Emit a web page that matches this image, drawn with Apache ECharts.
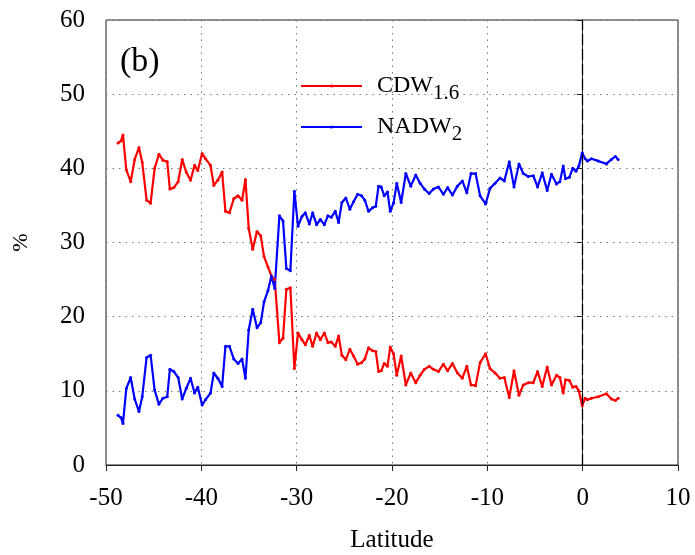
<!DOCTYPE html>
<html><head><meta charset="utf-8">
<script src="https://cdn.jsdelivr.net/npm/echarts@6/dist/echarts.min.js"></script>
<style>html,body{margin:0;padding:0;background:#fff}#c{width:695px;height:555px}</style>
</head><body><div id="c"></div>
<script>
const lat = [-48.74,-48.43,-48.22,-47.87,-47.41,-46.99,-46.54,-46.20,-45.74,-45.32,
-44.90,-44.45,-44.03,-43.58,-43.30,-42.88,-42.43,-42.01,-41.59,-41.13,
-40.71,-40.37,-39.92,-39.56,-39.04,-38.69,-38.27,-37.82,-37.47,-37.05,
-36.60,-36.15,-35.73,-35.37,-35.03,-34.61,-34.16,-33.77,-33.42,-33.01,
-32.65,-32.30,-31.81,-31.43,-31.08,-30.66,-30.24,-29.86,-29.45,-29.09,
-28.67,-28.32,-27.91,-27.52,-27.10,-26.72,-26.37,-25.95,-25.60,-25.26,
-24.84,-24.42,-24.03,-23.61,-23.19,-22.85,-22.46,-22.04,-21.70,-21.41,
-21.13,-20.82,-20.47,-20.19,-19.84,-19.50,-19.04,-18.55,-18.03,-17.51,
-17.05,-16.60,-16.10,-15.65,-15.13,-14.61,-14.16,-13.66,-13.14,-12.62,
-12.15,-11.71,-11.23,-10.76,-10.18,-9.72,-9.19,-8.67,-8.22,-7.70,
-7.20,-6.68,-6.23,-5.71,-5.18,-4.73,-4.24,-3.72,-3.27,-2.74,
-2.39,-2.04,-1.80,-1.39,-1.05,-0.70,-0.40,-0.05,0.26,0.50,
0.92,1.62,2.49,3.02,3.44,3.72];
const cdw = [43.4,43.7,44.5,39.8,38.2,41.2,42.8,40.8,35.7,35.3,
40.0,41.9,41.1,40.9,37.2,37.4,38.2,41.2,39.5,38.4,
40.4,39.7,42.0,41.3,40.4,37.7,38.4,39.5,34.2,34.0,
35.9,36.3,35.7,38.5,31.9,29.1,31.5,30.9,28.1,26.7,
25.5,25.0,16.5,17.1,23.7,23.9,13.0,17.8,16.9,16.2,
17.5,16.0,17.8,16.9,17.8,16.5,16.6,16.0,17.4,14.8,
14.2,15.6,14.7,13.6,13.8,14.3,15.8,15.4,15.3,12.6,
12.7,13.7,13.3,15.9,15.0,12.1,14.7,10.8,12.4,11.1,
12.1,12.9,13.3,12.9,12.6,13.6,12.7,13.7,12.4,11.7,
13.3,10.8,10.7,13.8,15.0,13.0,12.4,11.7,11.8,9.1,
12.7,9.4,10.8,11.1,11.1,12.6,10.6,13.2,10.8,12.1,
11.8,9.7,11.5,11.4,10.5,10.6,10.0,8.0,9.0,8.8,
9.0,9.2,9.6,8.9,8.7,9.0];
const nadw = [6.7,6.4,5.6,10.3,11.8,8.9,7.2,9.2,14.5,14.8,
10.1,8.2,9.0,9.2,12.9,12.6,11.8,8.9,10.3,11.7,
9.7,10.5,8.1,8.8,9.7,12.4,11.7,10.6,16.0,16.0,
14.3,13.7,14.3,11.7,18.2,21.0,18.5,19.2,22.0,23.5,
25.5,23.8,33.6,32.9,26.5,26.2,36.9,32.2,33.5,34.0,
32.5,34.0,32.4,33.1,32.4,33.6,33.4,34.2,32.7,35.4,
36.0,34.5,35.5,36.5,36.3,35.7,34.2,34.7,34.9,37.6,
37.5,36.3,36.8,34.2,35.3,38.0,35.4,39.3,37.6,39.1,
38.0,37.2,36.6,37.2,37.5,36.5,37.4,36.4,37.6,38.3,
36.7,39.3,39.3,36.3,35.2,37.3,38.0,38.7,38.3,40.9,
37.5,40.6,39.3,38.9,39.0,37.5,39.4,37.0,39.2,37.9,
38.2,40.3,38.6,38.8,40.0,39.6,40.3,42.1,41.3,41.0,
41.3,41.0,40.6,41.2,41.6,41.2];
const seriesNames = ['CDW1.6', 'NADW2'];
const legendMain = {'CDW1.6': 'CDW', 'NADW2': 'NADW'};
const legendSub = {'CDW1.6': '1.6', 'NADW2': '2'};
const panelLabel = '(b)';
const xName = 'Latitude';
const yName = '%';

const FONT = 'Liberation Serif';
const chart = echarts.init(document.getElementById('c'), null, {renderer: 'canvas'});
const gridLine = {show: true, lineStyle: {color: '#777', type: [1.5, 5], width: 1}};
chart.setOption({
  animation: false,
  backgroundColor: '#fff',
  grid: {left: 106, right: 17, top: 20, bottom: 90, show: true, borderColor: '#222', borderWidth: 1,
         containLabel: false, outerBoundsMode: 'none'},
  graphic: [{type: 'text', left: 120, top: 45, style: {text: panelLabel, font: '34px "Liberation Serif"', fill: '#000'}}],
  legend: {
    orient: 'vertical', left: 300, top: 68, padding: 0, itemWidth: 61, itemHeight: 4, itemGap: 5,
    data: seriesNames,
    formatter: n => '{m|' + legendMain[n] + '}{s|' + legendSub[n] + '}',
    textStyle: {fontFamily: FONT, color: '#000',
      rich: {m: {fontFamily: FONT, fontSize: 24, lineHeight: 24, padding: [0, 0, 0, 10]},
             s: {fontFamily: FONT, fontSize: 21, lineHeight: 21, padding: [15, 0, 0, 0]}}}
  },
  xAxis: {
    type: 'value', min: -50, max: 10, interval: 10,
    name: xName, nameLocation: 'middle', nameGap: 63,
    nameTextStyle: {fontFamily: FONT, fontSize: 25, color: '#000'},
    axisLine: {show: true, onZero: false, lineStyle: {color: '#222', width: 1}},
    axisTick: {show: true, length: 6, lineStyle: {color: '#222'}},
    axisLabel: {fontFamily: FONT, fontSize: 25, color: '#000', margin: 21},
    splitLine: gridLine
  },
  yAxis: {
    type: 'value', min: 0, max: 60, interval: 10,
    name: yName, nameLocation: 'middle', nameGap: 74, nameRotate: 90,
    nameTextStyle: {fontFamily: FONT, fontSize: 22, color: '#000'},
    axisLine: {show: true, lineStyle: {color: '#222', width: 1}},
    axisTick: {show: true, length: 6, lineStyle: {color: '#222'}},
    axisLabel: {fontFamily: FONT, fontSize: 25, color: '#000', margin: 21},
    splitLine: gridLine
  },
  series: [
    {name: seriesNames[0], type: 'line', data: lat.map((x, i) => [x, cdw[i]]),
     symbol: 'circle', symbolSize: 3, showAllSymbol: true,
     itemStyle: {color: '#ff0000'}, lineStyle: {color: '#ff0000', width: 2.2},
     markLine: {silent: true, symbol: 'none', label: {show: false},
       lineStyle: {color: '#000', type: [11, 4], width: 1.3}, data: [{xAxis: 0}]}},
    {name: seriesNames[1], type: 'line', data: lat.map((x, i) => [x, nadw[i]]),
     symbol: 'circle', symbolSize: 3, showAllSymbol: true,
     itemStyle: {color: '#0000ff'}, lineStyle: {color: '#0000ff', width: 2.2}}
  ]
});
</script></body></html>
